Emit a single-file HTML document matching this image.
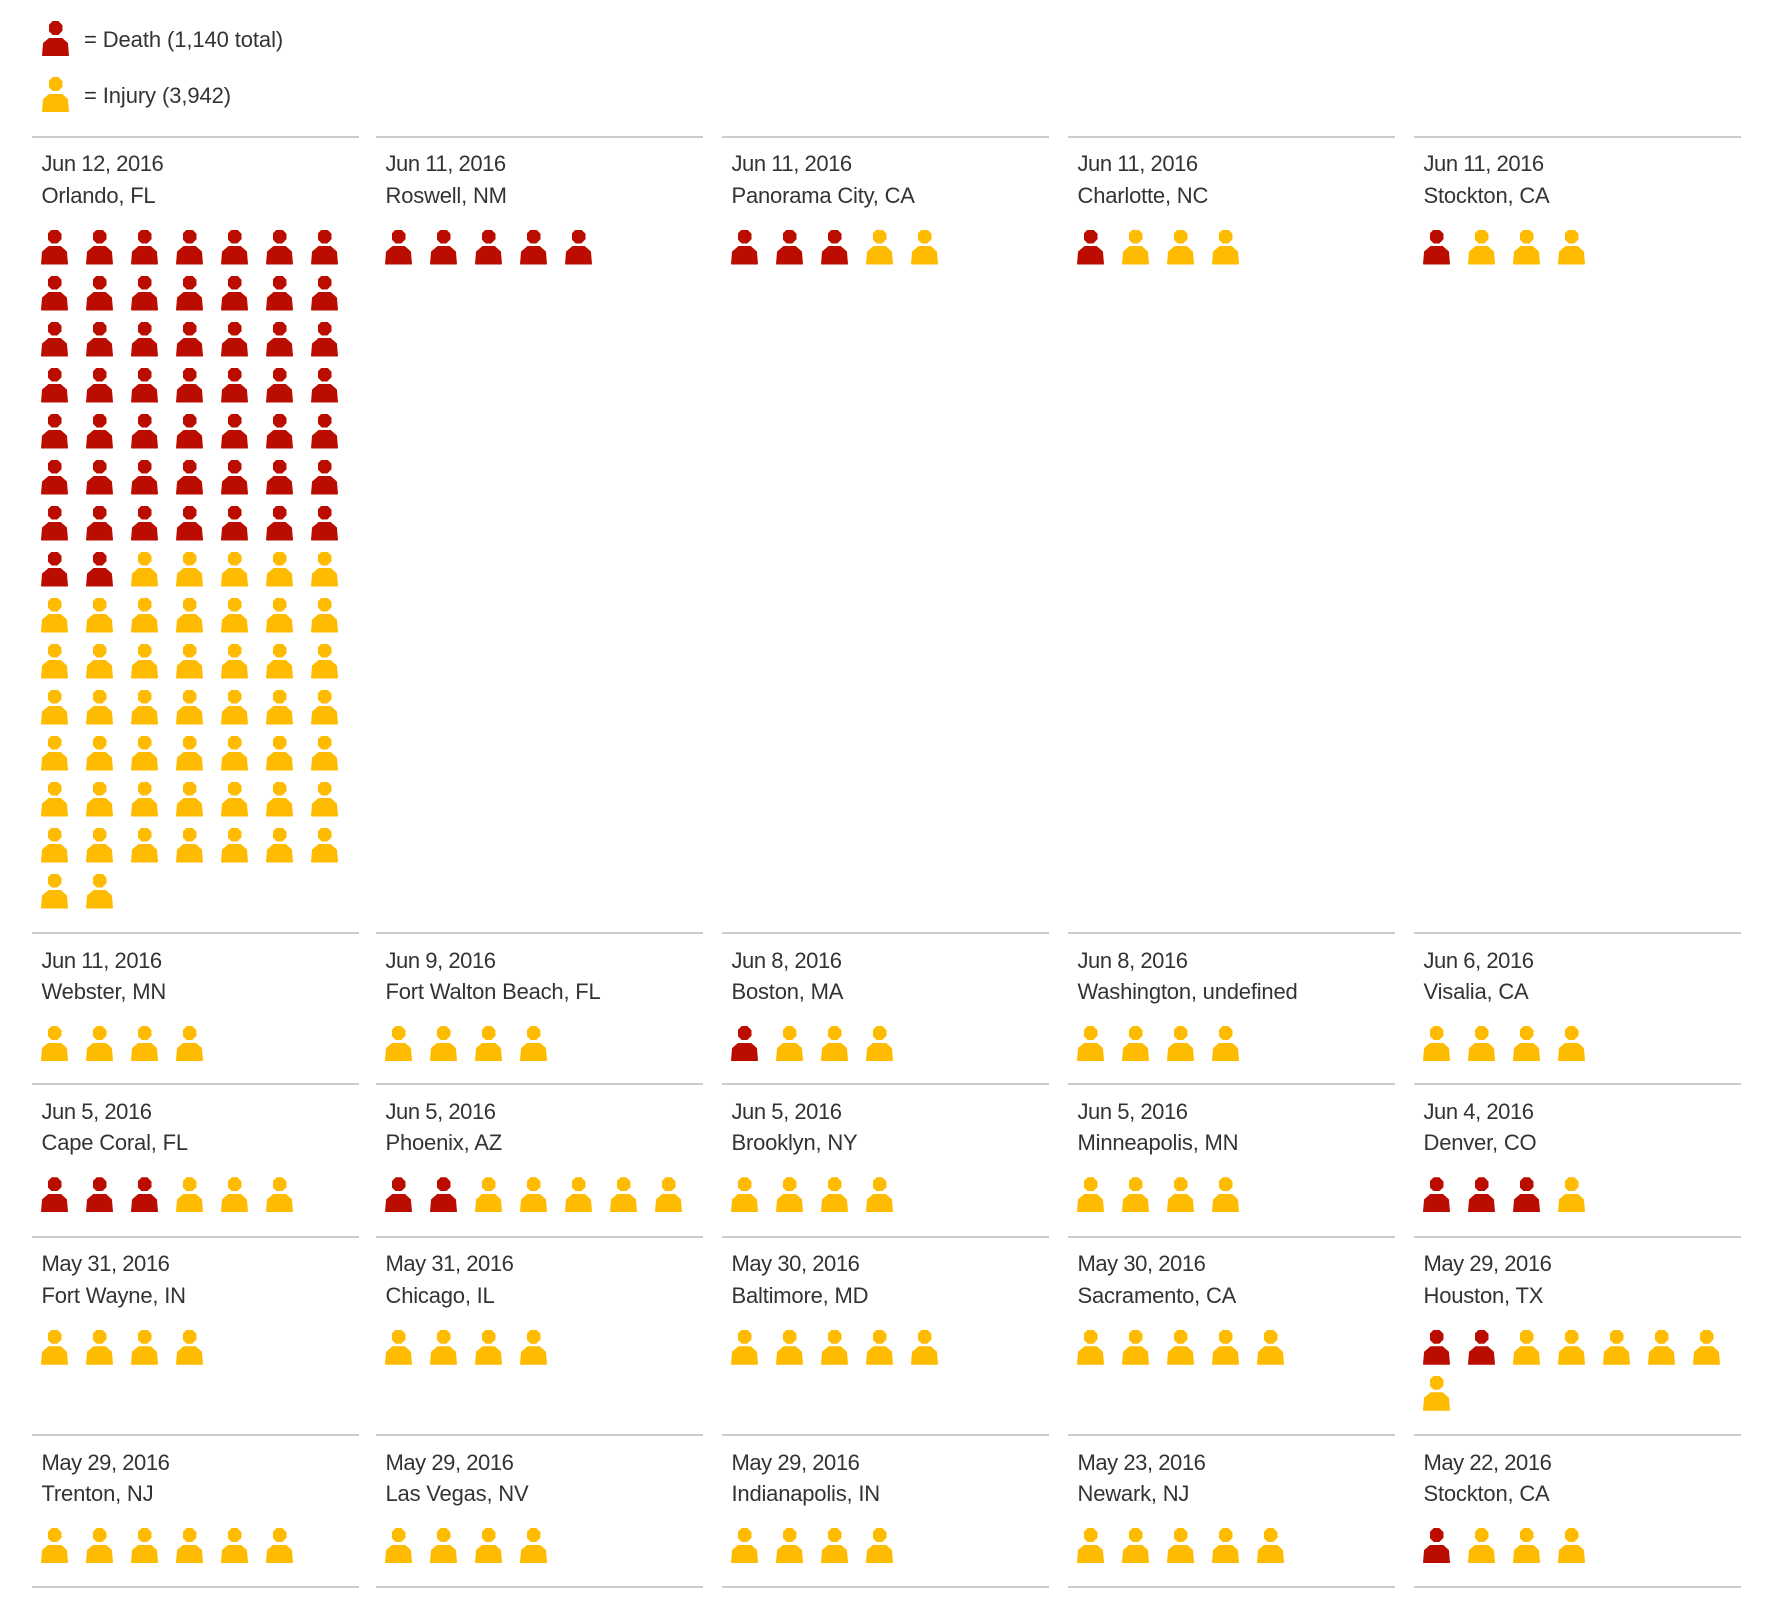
<!DOCTYPE html>
<html><head><meta charset="utf-8">
<style>
html,body{margin:0;padding:0;background:#fff}
body{width:1792px;height:1598px;position:relative;overflow:hidden;font-family:"Liberation Sans",sans-serif;color:#333}
.s{position:absolute;width:327px;height:10px}
.r{position:absolute;left:0;top:-1px;width:327px;height:2px;background:#cccccc}
.t{position:absolute;left:9.5px;top:11.7px;font-size:22px;line-height:31.5px;letter-spacing:-0.45px;white-space:nowrap}
.t span{letter-spacing:-0.2px}
.g{position:absolute;left:9px;top:93px;width:318px;display:flex;flex-wrap:wrap}
.ic{display:block;position:relative;width:27px;height:35px;flex:0 0 27px}
.g .ic{margin:0 18px 11px 0}
.ic::before{content:"";position:absolute;left:6.5px;top:0;width:14px;height:14px;background:var(--c);clip-path:polygon(30% 0,70% 0,100% 30%,100% 70%,70% 100%,30% 100%,0 70%,0 30%)}
.ic::after{content:"";position:absolute;left:0;top:16.5px;width:27px;height:18.5px;background:var(--c);clip-path:polygon(28% 0,73% 0,96% 30%,100% 97%,98% 100%,2% 100%,0 97%,4% 30%)}
.d{--c:#bb0c00}
.j{--c:#ffbb00}
.lg{position:absolute;left:42px}
.lt{position:absolute;left:84px;font-size:22px;line-height:22px;letter-spacing:-0.1px;white-space:nowrap}
</style></head><body>

<i class="ic d lg" style="top:21px"></i>
<div class="lt" style="top:29.4px">= Death (1,140 total)</div>
<i class="ic j lg" style="top:77px"></i>
<div class="lt" style="top:85.4px">= Injury (3,942)</div>

<!-- Row 1 -->
<div class="s" style="left:32px;top:136.5px"><div class="r"></div><div class="t">Jun 12, 2016<br><span>Orlando, FL</span></div>
<div class="g">
<i class="ic d"></i><i class="ic d"></i><i class="ic d"></i><i class="ic d"></i><i class="ic d"></i><i class="ic d"></i><i class="ic d"></i>
<i class="ic d"></i><i class="ic d"></i><i class="ic d"></i><i class="ic d"></i><i class="ic d"></i><i class="ic d"></i><i class="ic d"></i>
<i class="ic d"></i><i class="ic d"></i><i class="ic d"></i><i class="ic d"></i><i class="ic d"></i><i class="ic d"></i><i class="ic d"></i>
<i class="ic d"></i><i class="ic d"></i><i class="ic d"></i><i class="ic d"></i><i class="ic d"></i><i class="ic d"></i><i class="ic d"></i>
<i class="ic d"></i><i class="ic d"></i><i class="ic d"></i><i class="ic d"></i><i class="ic d"></i><i class="ic d"></i><i class="ic d"></i>
<i class="ic d"></i><i class="ic d"></i><i class="ic d"></i><i class="ic d"></i><i class="ic d"></i><i class="ic d"></i><i class="ic d"></i>
<i class="ic d"></i><i class="ic d"></i><i class="ic d"></i><i class="ic d"></i><i class="ic d"></i><i class="ic d"></i><i class="ic d"></i>
<i class="ic d"></i><i class="ic d"></i><i class="ic j"></i><i class="ic j"></i><i class="ic j"></i><i class="ic j"></i><i class="ic j"></i>
<i class="ic j"></i><i class="ic j"></i><i class="ic j"></i><i class="ic j"></i><i class="ic j"></i><i class="ic j"></i><i class="ic j"></i>
<i class="ic j"></i><i class="ic j"></i><i class="ic j"></i><i class="ic j"></i><i class="ic j"></i><i class="ic j"></i><i class="ic j"></i>
<i class="ic j"></i><i class="ic j"></i><i class="ic j"></i><i class="ic j"></i><i class="ic j"></i><i class="ic j"></i><i class="ic j"></i>
<i class="ic j"></i><i class="ic j"></i><i class="ic j"></i><i class="ic j"></i><i class="ic j"></i><i class="ic j"></i><i class="ic j"></i>
<i class="ic j"></i><i class="ic j"></i><i class="ic j"></i><i class="ic j"></i><i class="ic j"></i><i class="ic j"></i><i class="ic j"></i>
<i class="ic j"></i><i class="ic j"></i><i class="ic j"></i><i class="ic j"></i><i class="ic j"></i><i class="ic j"></i><i class="ic j"></i>
<i class="ic j"></i><i class="ic j"></i>
</div></div>

<div class="s" style="left:376px;top:136.5px"><div class="r"></div><div class="t">Jun 11, 2016<br><span>Roswell, NM</span></div>
<div class="g"><i class="ic d"></i><i class="ic d"></i><i class="ic d"></i><i class="ic d"></i><i class="ic d"></i></div></div>

<div class="s" style="left:722px;top:136.5px"><div class="r"></div><div class="t">Jun 11, 2016<br><span>Panorama City, CA</span></div>
<div class="g"><i class="ic d"></i><i class="ic d"></i><i class="ic d"></i><i class="ic j"></i><i class="ic j"></i></div></div>

<div class="s" style="left:1068px;top:136.5px"><div class="r"></div><div class="t">Jun 11, 2016<br><span>Charlotte, NC</span></div>
<div class="g"><i class="ic d"></i><i class="ic j"></i><i class="ic j"></i><i class="ic j"></i></div></div>

<div class="s" style="left:1414px;top:136.5px"><div class="r"></div><div class="t">Jun 11, 2016<br><span>Stockton, CA</span></div>
<div class="g"><i class="ic d"></i><i class="ic j"></i><i class="ic j"></i><i class="ic j"></i></div></div>

<!-- Row 2 -->
<div class="s" style="left:32px;top:933px"><div class="r"></div><div class="t">Jun 11, 2016<br><span>Webster, MN</span></div>
<div class="g"><i class="ic j"></i><i class="ic j"></i><i class="ic j"></i><i class="ic j"></i></div></div>

<div class="s" style="left:376px;top:933px"><div class="r"></div><div class="t">Jun 9, 2016<br><span>Fort Walton Beach, FL</span></div>
<div class="g"><i class="ic j"></i><i class="ic j"></i><i class="ic j"></i><i class="ic j"></i></div></div>

<div class="s" style="left:722px;top:933px"><div class="r"></div><div class="t">Jun 8, 2016<br><span>Boston, MA</span></div>
<div class="g"><i class="ic d"></i><i class="ic j"></i><i class="ic j"></i><i class="ic j"></i></div></div>

<div class="s" style="left:1068px;top:933px"><div class="r"></div><div class="t">Jun 8, 2016<br><span>Washington, undefined</span></div>
<div class="g"><i class="ic j"></i><i class="ic j"></i><i class="ic j"></i><i class="ic j"></i></div></div>

<div class="s" style="left:1414px;top:933px"><div class="r"></div><div class="t">Jun 6, 2016<br><span>Visalia, CA</span></div>
<div class="g"><i class="ic j"></i><i class="ic j"></i><i class="ic j"></i><i class="ic j"></i></div></div>

<!-- Row 3 -->
<div class="s" style="left:32px;top:1084.3px"><div class="r"></div><div class="t">Jun 5, 2016<br><span>Cape Coral, FL</span></div>
<div class="g"><i class="ic d"></i><i class="ic d"></i><i class="ic d"></i><i class="ic j"></i><i class="ic j"></i><i class="ic j"></i></div></div>

<div class="s" style="left:376px;top:1084.3px"><div class="r"></div><div class="t">Jun 5, 2016<br><span>Phoenix, AZ</span></div>
<div class="g"><i class="ic d"></i><i class="ic d"></i><i class="ic j"></i><i class="ic j"></i><i class="ic j"></i><i class="ic j"></i><i class="ic j"></i></div></div>

<div class="s" style="left:722px;top:1084.3px"><div class="r"></div><div class="t">Jun 5, 2016<br><span>Brooklyn, NY</span></div>
<div class="g"><i class="ic j"></i><i class="ic j"></i><i class="ic j"></i><i class="ic j"></i></div></div>

<div class="s" style="left:1068px;top:1084.3px"><div class="r"></div><div class="t">Jun 5, 2016<br><span>Minneapolis, MN</span></div>
<div class="g"><i class="ic j"></i><i class="ic j"></i><i class="ic j"></i><i class="ic j"></i></div></div>

<div class="s" style="left:1414px;top:1084.3px"><div class="r"></div><div class="t">Jun 4, 2016<br><span>Denver, CO</span></div>
<div class="g"><i class="ic d"></i><i class="ic d"></i><i class="ic d"></i><i class="ic j"></i></div></div>

<!-- Row 4 -->
<div class="s" style="left:32px;top:1236.7px"><div class="r"></div><div class="t">May 31, 2016<br><span>Fort Wayne, IN</span></div>
<div class="g"><i class="ic j"></i><i class="ic j"></i><i class="ic j"></i><i class="ic j"></i></div></div>

<div class="s" style="left:376px;top:1236.7px"><div class="r"></div><div class="t">May 31, 2016<br><span>Chicago, IL</span></div>
<div class="g"><i class="ic j"></i><i class="ic j"></i><i class="ic j"></i><i class="ic j"></i></div></div>

<div class="s" style="left:722px;top:1236.7px"><div class="r"></div><div class="t">May 30, 2016<br><span>Baltimore, MD</span></div>
<div class="g"><i class="ic j"></i><i class="ic j"></i><i class="ic j"></i><i class="ic j"></i><i class="ic j"></i></div></div>

<div class="s" style="left:1068px;top:1236.7px"><div class="r"></div><div class="t">May 30, 2016<br><span>Sacramento, CA</span></div>
<div class="g"><i class="ic j"></i><i class="ic j"></i><i class="ic j"></i><i class="ic j"></i><i class="ic j"></i></div></div>

<div class="s" style="left:1414px;top:1236.7px"><div class="r"></div><div class="t">May 29, 2016<br><span>Houston, TX</span></div>
<div class="g"><i class="ic d"></i><i class="ic d"></i><i class="ic j"></i><i class="ic j"></i><i class="ic j"></i><i class="ic j"></i><i class="ic j"></i><i class="ic j"></i></div></div>

<!-- Row 5 -->
<div class="s" style="left:32px;top:1435px"><div class="r"></div><div class="t">May 29, 2016<br><span>Trenton, NJ</span></div>
<div class="g"><i class="ic j"></i><i class="ic j"></i><i class="ic j"></i><i class="ic j"></i><i class="ic j"></i><i class="ic j"></i></div></div>

<div class="s" style="left:376px;top:1435px"><div class="r"></div><div class="t">May 29, 2016<br><span>Las Vegas, NV</span></div>
<div class="g"><i class="ic j"></i><i class="ic j"></i><i class="ic j"></i><i class="ic j"></i></div></div>

<div class="s" style="left:722px;top:1435px"><div class="r"></div><div class="t">May 29, 2016<br><span>Indianapolis, IN</span></div>
<div class="g"><i class="ic j"></i><i class="ic j"></i><i class="ic j"></i><i class="ic j"></i></div></div>

<div class="s" style="left:1068px;top:1435px"><div class="r"></div><div class="t">May 23, 2016<br><span>Newark, NJ</span></div>
<div class="g"><i class="ic j"></i><i class="ic j"></i><i class="ic j"></i><i class="ic j"></i><i class="ic j"></i></div></div>

<div class="s" style="left:1414px;top:1435px"><div class="r"></div><div class="t">May 22, 2016<br><span>Stockton, CA</span></div>
<div class="g"><i class="ic d"></i><i class="ic j"></i><i class="ic j"></i><i class="ic j"></i></div></div>

<!-- bottom rules -->
<div class="s" style="left:32px;top:1586.5px"><div class="r"></div></div>
<div class="s" style="left:376px;top:1586.5px"><div class="r"></div></div>
<div class="s" style="left:722px;top:1586.5px"><div class="r"></div></div>
<div class="s" style="left:1068px;top:1586.5px"><div class="r"></div></div>
<div class="s" style="left:1414px;top:1586.5px"><div class="r"></div></div>

</body></html>
